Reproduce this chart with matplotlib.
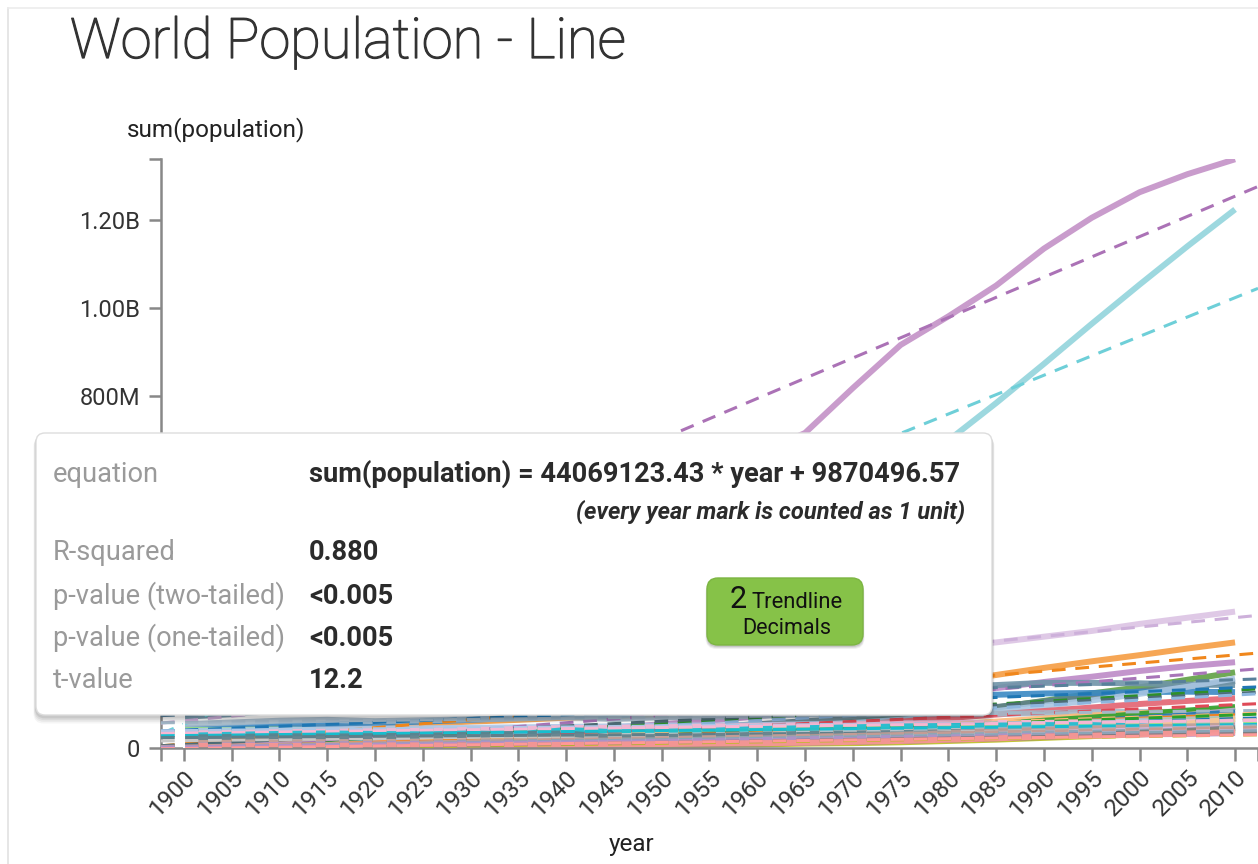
import numpy as np
import matplotlib.pyplot as plt
import matplotlib.patheffects as pe
from matplotlib.patches import FancyBboxPatch

plt.rcParams['font.family'] = ['Roboto', 'DejaVu Sans']

years = list(range(1900, 2011, 5))

# population per country at each 5-year mark, in millions
china = [400, 409, 423, 436, 472, 485, 489, 504, 518, 530, 544, 609, 667, 716, 818, 916, 981, 1051, 1135, 1205, 1263, 1304, 1338]
india = [238, 245, 252, 253, 251, 265, 279, 298, 319, 342, 372, 409, 450, 499, 555, 623, 699, 784, 873, 964, 1053, 1140, 1224]
usa = [76, 84, 92, 100, 106, 116, 123, 127, 132, 140, 158, 171, 186, 199, 210, 220, 230, 240, 253, 266, 282, 296, 310]
indonesia = [40, 42, 45, 48, 50, 55, 60, 64, 69, 72, 78, 86, 96, 107, 120, 135, 150, 166, 182, 197, 211, 226, 240]
brazil = [17, 20, 22, 25, 28, 31, 34, 37, 41, 46, 54, 62, 72, 84, 96, 108, 122, 136, 150, 162, 175, 186, 195]
pakistan = [20, 21, 22, 23, 24, 26, 28, 30, 32, 35, 37, 42, 46, 52, 59, 67, 78, 92, 107, 124, 138, 155, 172]
bangladesh = [29, 30, 32, 32, 33, 35, 37, 39, 41, 42, 44, 48, 54, 61, 67, 75, 83, 93, 106, 116, 129, 140, 152]
russia = [71, 77, 85, 89, 88, 92, 98, 105, 110, 100, 102, 111, 120, 127, 130, 134, 139, 143, 148, 148, 147, 144, 143]
japan = [44, 47, 50, 54, 56, 60, 64, 69, 72, 72, 84, 90, 94, 99, 104, 112, 117, 121, 124, 125, 127, 128, 127]
nigeria = [16, 17, 18, 19, 20, 22, 24, 26, 28, 31, 38, 42, 45, 51, 57, 64, 74, 84, 96, 108, 123, 139, 158]
mexico = [14, 15, 15, 15, 15, 16, 17, 18, 20, 22, 28, 32, 38, 45, 52, 60, 68, 76, 84, 92, 100, 107, 113]
germany = [54, 58, 62, 64, 61, 63, 65, 67, 70, 66, 70, 71, 73, 76, 78, 79, 78, 78, 79, 82, 82, 82, 81]
vietnam = [12, 13, 14, 15, 16, 17, 18, 19, 20, 22, 25, 28, 32, 36, 41, 47, 53, 60, 67, 74, 79, 83, 88]
philippines = [8, 8, 9, 9, 10, 12, 13, 15, 16, 18, 19, 22, 26, 31, 36, 42, 47, 54, 62, 69, 77, 85, 93]
ethiopia = [11, 12, 12, 13, 13, 14, 15, 16, 17, 18, 18, 20, 22, 25, 29, 33, 35, 40, 48, 57, 66, 75, 85]
egypt = [10, 11, 12, 13, 13, 14, 15, 16, 17, 19, 22, 24, 27, 31, 35, 39, 44, 50, 56, 61, 68, 74, 81]
iran = [9, 10, 10, 11, 11, 12, 12, 13, 14, 15, 17, 19, 22, 25, 28, 33, 39, 48, 56, 60, 66, 70, 74]
turkey = [13, 14, 14, 14, 14, 14, 15, 17, 18, 19, 21, 24, 28, 31, 35, 40, 44, 50, 56, 60, 64, 68, 72]
thailand = [7, 8, 8, 9, 10, 11, 13, 14, 16, 17, 20, 23, 27, 31, 36, 42, 47, 51, 55, 58, 62, 65, 67]
france = [41, 41, 42, 40, 39, 41, 42, 42, 41, 40, 42, 44, 46, 49, 51, 53, 54, 55, 57, 58, 59, 61, 63]
uk = [38, 40, 41, 42, 44, 45, 46, 47, 48, 49, 51, 51, 52, 54, 56, 56, 56, 57, 57, 58, 59, 60, 62]
italy = [33, 34, 36, 37, 38, 39, 41, 43, 45, 46, 47, 49, 50, 52, 54, 55, 56, 57, 57, 57, 57, 59, 61]
ukraine = [28, 30, 32, 33, 32, 31, 33, 31, 41, 36, 37, 39, 43, 45, 47, 49, 50, 51, 52, 52, 49, 47, 46]
korea = [8, 8, 9, 9, 10, 10, 11, 12, 14, 15, 19, 22, 25, 29, 32, 35, 38, 41, 43, 45, 47, 48, 49]
spain = [19, 19, 20, 20, 21, 22, 24, 25, 26, 27, 28, 29, 31, 32, 34, 36, 38, 38, 39, 39, 40, 43, 46]
poland = [24, 25, 27, 26, 27, 28, 30, 32, 33, 24, 25, 27, 30, 32, 33, 34, 36, 37, 38, 39, 39, 38, 38]
congo = [7, 7, 8, 8, 9, 9, 10, 11, 11, 12, 12, 14, 15, 17, 20, 23, 27, 31, 35, 42, 47, 55, 66]
south_africa = [5, 6, 6, 7, 7, 8, 9, 9, 10, 11, 14, 15, 17, 20, 22, 25, 29, 33, 36, 41, 45, 48, 51]
myanmar = [11, 12, 12, 13, 13, 14, 15, 16, 16, 17, 17, 19, 21, 24, 27, 30, 34, 38, 41, 44, 47, 49, 51]
colombia = [4, 4, 5, 5, 6, 7, 8, 8, 9, 10, 12, 14, 16, 19, 21, 24, 26, 30, 33, 37, 40, 43, 46]
argentina = [5, 6, 7, 8, 9, 10, 12, 13, 14, 16, 17, 19, 21, 22, 24, 26, 28, 30, 33, 35, 37, 39, 40]
kenya = [3, 3, 3, 3, 3, 4, 4, 4, 5, 5, 6, 7, 8, 10, 11, 13, 16, 19, 23, 27, 31, 36, 41]
canada = [5, 6, 7, 8, 9, 9, 10, 11, 11, 12, 14, 16, 18, 20, 21, 23, 24, 26, 28, 29, 31, 32, 34]
tanzania = [4, 4, 4, 5, 5, 5, 6, 6, 7, 7, 8, 9, 10, 12, 14, 16, 19, 22, 25, 30, 34, 39, 45]
algeria = [5, 5, 5, 5, 6, 6, 6, 7, 7, 8, 9, 10, 11, 12, 14, 16, 19, 22, 26, 28, 31, 33, 36]

series = [
    ("China", china), ("India", india), ("United States", usa),
    ("Indonesia", indonesia), ("Brazil", brazil), ("Pakistan", pakistan),
    ("Bangladesh", bangladesh), ("Russia", russia), ("Japan", japan),
    ("Nigeria", nigeria), ("Mexico", mexico), ("Germany", germany),
    ("Vietnam", vietnam), ("Philippines", philippines), ("Ethiopia", ethiopia),
    ("Egypt", egypt), ("Iran", iran), ("Turkey", turkey), ("Thailand", thailand),
    ("France", france), ("United Kingdom", uk), ("Italy", italy),
    ("Ukraine", ukraine), ("South Korea", korea), ("Spain", spain),
    ("Poland", poland), ("Congo DR", congo), ("South Africa", south_africa),
    ("Myanmar", myanmar), ("Colombia", colombia), ("Argentina", argentina),
    ("Kenya", kenya), ("Canada", canada), ("Tanzania", tanzania),
    ("Algeria", algeria),
]

# India's fitted trendline, as reported in the stats box
india_slope = 44069123.43
india_intercept = 9870496.57
r_squared = "0.880"
p_two = "<0.005"
p_one = "<0.005"
t_value = "12.2"

line_colors = {
    "China": ("#c391c7", "#ab72b6"),
    "India": ("#92d4dc", "#6ecfd8"),
    "United States": ("#dcc4e4", "#cdb0da"),
    "Indonesia": ("#f59d42", "#f0871c"),
    "Brazil": ("#bd8ac7", "#a875b8"),
    "Pakistan": ("#5fa043", "#2e8f2a"),
    "Bangladesh": ("#5f7f8a", "#4e6c76"),
    "Russia": ("#6f94a8", "#58809a"),
    "Japan": ("#3a88c4", "#1f77b4"),
    "Nigeria": ("#a9c6e2", "#8db6de"),
    "Mexico": ("#e36371", "#df4a57"),
}
other_colors = ["#a3b8c8", "#ffbb78", "#2ca02c", "#c5b0d5", "#1f77b4", "#7f98a8",
                "#ff7f0e", "#b5c3cc", "#98df8a", "#aec7e8", "#f7b6d2", "#17becf",
                "#9fb4c4", "#c7c7c7", "#5f7f8a", "#f5c894", "#9edae5", "#c49c94",
                "#d9b8e0", "#8aa5b6", "#bcbd22", "#b091c8", "#7f7f7f", "#ff9896"]

W, H = 1258, 864
fig = plt.figure(figsize=(W / 100, H / 100), dpi=100)

x_lo, x_hi = 1897.6, 2012.4
y_top = 1.3386e9
ax = fig.add_axes([161 / W, 1 - 748 / H, (W - 161) / W, (748 - 159) / H])
ax.set_xlim(x_lo, x_hi)
ax.set_ylim(0, y_top)

marks = np.arange(1, len(years) + 1)
k_edges = (np.array([x_lo, x_hi]) - 1895) / 5

ci = 0
for name, vals in series:
    y = np.array(vals, dtype=float) * 1e6
    if name in line_colors:
        solid, dash = line_colors[name]
    else:
        solid = dash = other_colors[ci % len(other_colors)]
        ci += 1
    if name == "India":
        slope, icpt = india_slope, india_intercept
    else:
        slope, icpt = np.polyfit(marks, y, 1)
    ax.plot(years, y, color=solid, lw=4.3, alpha=0.9, solid_capstyle='butt', zorder=2)
    ax.plot([x_lo, x_hi], icpt + slope * k_edges, color=dash, lw=2.2,
            dashes=(4.5, 3.2), zorder=3)

ax.axvline(1900, ymax=80e6 / y_top, color='white', lw=1.5, zorder=4)

for s in ['top', 'right']:
    ax.spines[s].set_visible(False)
for s in ['left', 'bottom']:
    ax.spines[s].set_color('#888888')
    ax.spines[s].set_linewidth(1.8)

# 200M-600M sit behind the stats box, so their labels stay blank
ax.set_yticks([0, 200e6, 400e6, 600e6, 800e6, 1.0e9, 1.2e9])
ax.set_yticklabels(['0', '', '', '', '800M', '1.00B', '1.20B'])
ax.set_xticks(years)
ax.set_xticklabels([str(y) for y in years], rotation=45, ha='right',
                   rotation_mode='anchor')
ax.set_yticks([y_top], minor=True)
ax.set_xticks([x_lo, x_hi], minor=True)
ax.tick_params(which='both', color='#888888', width=1.8, length=9,
               labelcolor='#333333', pad=6)
ax.tick_params(axis='y', labelsize=17)
ax.tick_params(axis='x', which='major', labelsize=17.5, pad=4)

# overlay in pixel units for the title, axis names and the stats box
ov = fig.add_axes([0, 0, 1, 1], zorder=10)
ov.set_xlim(0, W)
ov.set_ylim(H, 0)
ov.axis('off')
ov.patch.set_visible(False)

ov.plot([8, 8], [8, H], color='#e2e2e2', lw=1.2)
ov.plot([8, W], [8, 8], color='#ececec', lw=1.2)

ov.text(70, 58, "World Population - Line", fontsize=40.3, fontweight='light',
        color='#333333', va='baseline', ha='left',
        path_effects=[pe.withStroke(linewidth=0.9, foreground='#333333')])
ov.text(127, 130, "sum(population)", fontsize=17.5, color='#222222', va='center')
ov.text(632, 845, "year", fontsize=17.5, color='#222222', va='center', ha='center')

# stats box with a soft drop shadow
for i, a in enumerate([0.04, 0.05, 0.06, 0.08]):
    off = 5 - i
    ov.add_patch(FancyBboxPatch((36 - off * 0.5, 433 + off * 0.7), 956 + off, 282 + off,
                                boxstyle="round,pad=0,rounding_size=10",
                                fc='#000000', ec='none', alpha=a))
ov.add_patch(FancyBboxPatch((36, 433), 956, 282, boxstyle="round,pad=0,rounding_size=9",
                            fc='white', ec='#dddddd', lw=1))

rows = [
    ("equation", 474, f"sum(population) = {india_slope:.2f} * year + {india_intercept:.2f}"),
    ("R-squared", 553, r_squared),
    ("p-value (two-tailed)", 596, p_two),
    ("p-value (one-tailed)", 638, p_one),
    ("t-value", 681, t_value),
]
for label, yy, val in rows:
    ov.text(53, yy, label, fontsize=19.6, color='#9a9a9a', va='center', ha='left')
    ov.text(309, yy, val, fontsize=19.6, color='#2b2b2b', fontweight='bold',
            va='center', ha='left')
ov.text(965, 512, "(every year mark is counted as 1 unit)", fontsize=17,
        color='#2b2b2b', fontweight='bold', style='italic', va='center', ha='right')

# green decimals button
for i, a in enumerate([0.06, 0.08, 0.1]):
    off = 3 - i
    ov.add_patch(FancyBboxPatch((707 - off * 0.5, 578 + off + 1), 156 + off, 67,
                                boxstyle="round,pad=0,rounding_size=11",
                                fc='#000000', ec='none', alpha=a))
ov.add_patch(FancyBboxPatch((707, 578), 156, 67, boxstyle="round,pad=0,rounding_size=11",
                            fc='#86c248', ec='#7cb542', lw=1))
ov.text(738, 600, "2", fontsize=22, color='#111111', va='center', ha='center')
ov.text(752, 602, "Trendline", fontsize=15.8, color='#111111', va='center', ha='left')
ov.text(787, 629, "Decimals", fontsize=15.5, color='#111111', va='center', ha='center')

fig.savefig("out.png", dpi=100)
